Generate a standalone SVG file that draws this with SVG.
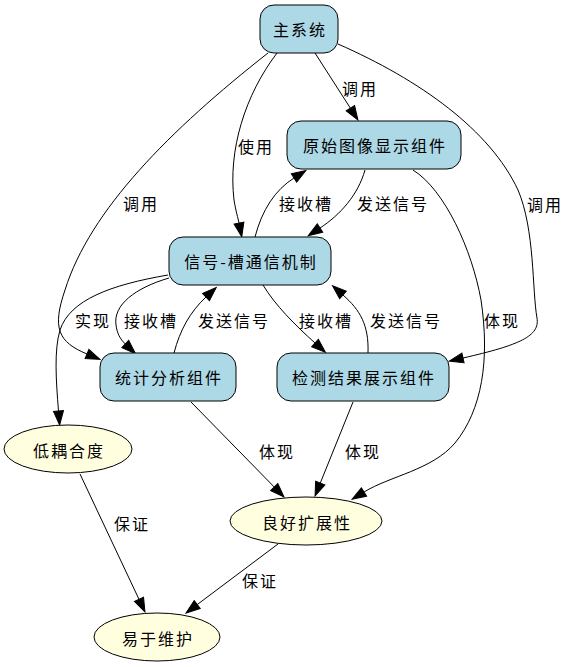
<svg xmlns="http://www.w3.org/2000/svg" width="570" height="667" viewBox="0 0 570 667">
<style>
.box{fill:#add8e6;stroke:#000;stroke-width:1}
.ell{fill:#ffffe0;stroke:#000;stroke-width:1}
text{font-family:"Noto Sans CJK SC","Liberation Sans",sans-serif;font-size:16px;letter-spacing:2px;text-anchor:middle;dominant-baseline:central;fill:#000}
.e path{fill:none;stroke:#000;stroke-width:1;marker-end:url(#arr)}
</style>
<defs>
<marker id="arr" markerUnits="userSpaceOnUse" markerWidth="16" markerHeight="12" refX="0" refY="5" orient="auto" overflow="visible">
<path d="M0,0 L14,5 L0,10 Z" fill="#000" stroke="#000" stroke-width="1"/>
</marker>
</defs>
<rect width="570" height="667" fill="#fff"/>
<g id="edges" class="e">
<path d="M268,53 C170,130 90,210 65,290 C52,328 58,342 87,354"/>
<path d="M277,53 C245,95 228,150 234,200 C236,212 238,218 239,223"/>
<path d="M315,53 L350.4,108.2"/>
<path d="M338,44 C420,80 490,130 518,190 C535,230 532,290 537,318 C540,336 520,345 463,358"/>
<path d="M413,170 C445,190 472,250 481,300 C490,360 482,410 455,443 C432,470 390,476 364,492"/>
<path d="M255,237 C262,210 275,190 294,178"/>
<path d="M365,170 C358,195 340,215 320,228"/>
<path d="M168,275 C110,285 70,300 60,330 C54,350 56,380 58.5,411"/>
<path d="M169,278 C135,288 113,305 116,325 C117,333 120,339 125.3,344"/>
<path d="M174,353 C180,330 190,312 206,297"/>
<path d="M263,285 C275,305 295,325 315,343"/>
<path d="M368,353 C369,325 360,310 343,295"/>
<path d="M191,402 L274.2,487"/>
<path d="M353,402 L320.3,483"/>
<path d="M80,474 L139,599.3"/>
<path d="M278,544 L197.2,604.6"/>
</g>
<g id="edge-labels">
<text x="141" y="203">调用</text>
<text x="256" y="146">使用</text>
<text x="360" y="88">调用</text>
<text x="545" y="204">调用</text>
<text x="502" y="320">体现</text>
<text x="306" y="203">接收槽</text>
<text x="393" y="203">发送信号</text>
<text x="93" y="320">实现</text>
<text x="151" y="320">接收槽</text>
<text x="234" y="320">发送信号</text>
<text x="326" y="320">接收槽</text>
<text x="406" y="320">发送信号</text>
<text x="277" y="451">体现</text>
<text x="363" y="451">体现</text>
<text x="132" y="523">保证</text>
<text x="260" y="580">保证</text>
</g>
<g id="n_main"><rect class="box" x="260" y="5" width="78" height="48" rx="14"/><text x="300" y="29">主系统</text></g>
<g id="n_orig"><rect class="box" x="287" y="121" width="174" height="48" rx="14"/><text x="375" y="145">原始图像显示组件</text></g>
<g id="n_sig"><rect class="box" x="169" y="237" width="162" height="48" rx="14"/><text x="251" y="261">信号-槽通信机制</text></g>
<g id="n_stat"><rect class="box" x="100" y="353" width="136" height="48" rx="14"/><text x="169" y="377">统计分析组件</text></g>
<g id="n_det"><rect class="box" x="277" y="353" width="172" height="48" rx="14"/><text x="364" y="377">检测结果展示组件</text></g>
<g id="n_low"><ellipse class="ell" cx="68" cy="449" rx="64" ry="24"/><text x="69" y="450">低耦合度</text></g>
<g id="n_ext"><ellipse class="ell" cx="306" cy="521" rx="76" ry="24"/><text x="307" y="522">良好扩展性</text></g>
<g id="n_maint"><ellipse class="ell" cx="157" cy="637" rx="63" ry="24"/><text x="158" y="638">易于维护</text></g>
</svg>
